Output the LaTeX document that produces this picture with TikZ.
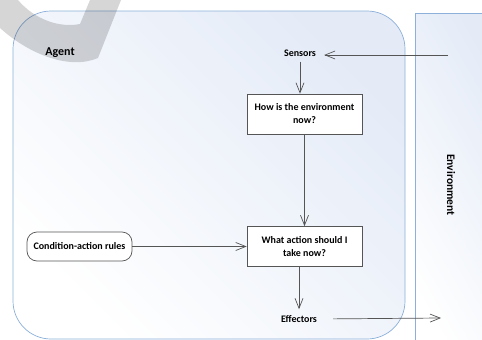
\documentclass[tikz,border=0pt]{standalone}
\usepackage{fontspec}
\setmainfont{Carlito}
\usetikzlibrary{arrows.meta,calc}
\definecolor{frameblue}{RGB}{140,176,218}
\definecolor{paleblue}{RGB}{228,235,247}
\definecolor{linegray}{RGB}{85,85,85}
\begin{document}
\begin{tikzpicture}[x=1pt,y=-1pt,
  lbl/.style={font=\fontsize{10}{11}\selectfont\bfseries, inner sep=1pt},
  stepbox/.style={draw=linegray, line width=0.7pt, fill=white, minimum width=115pt,
    minimum height=40pt, align=center, font=\fontsize{10}{13}\selectfont\bfseries, inner sep=2pt},
  rulebox/.style={draw=linegray, line width=0.7pt, fill=white, rounded corners=10pt,
    minimum width=105pt, minimum height=29pt, font=\fontsize{10}{11}\selectfont\bfseries},
  flow/.style={draw=linegray, line width=0.7pt,
    -{Straight Barb[length=10pt,width=8pt,line width=0.7pt]}}
]
\useasboundingbox (0,0) rectangle (482,340);
\fill[white] (0,0) rectangle (482,340);

% environment panel
\shade[left color=paleblue, right color=white, shading angle=-60]
  (415,13) rectangle (500,360);
\draw[frameblue, line width=0.7pt] (500,13) -- (415,13) -- (415,360);

% agent panel
\shade[left color=paleblue, right color=white, shading angle=-45, rounded corners=38pt]
  (13,11) rectangle (405,339);
\draw[frameblue, line width=0.7pt, rounded corners=38pt] (13,11) rectangle (405,339);

% labels and boxes
\node[font=\fontsize{12}{14}\selectfont\bfseries] (agent) at (60,53) {Agent};
\node[lbl] (sensors) at (300,53) {Sensors};
\node[stepbox] (now) at (304.5,114) {How is the environment\\now?};
\node[stepbox] (act) at (304.5,246.5) {What action should I\\take now?};
\node[rulebox] (rules) at (79.5,246.5) {Condition-action rules};
\node[lbl] (effectors) at (299,319) {Effectors};
\node[font=\fontsize{11.5}{12}\selectfont\bfseries, rotate=-90] (env) at (451,185) {Environment};

\coordinate (percept) at (448,55);
\coordinate (output) at (441,318);

% connectors
\draw[flow, shorten >=7pt] (percept) -- (sensors.east |- percept);
\draw[flow, shorten <=4pt] (sensors.south) -- (sensors.south |- now.north);
\draw[flow] (now) -- (act);
\draw[flow] (rules) -- (act);
\draw[flow, shorten >=5pt] (act.south -| effectors) -- (effectors.north);
\draw[flow, shorten <=15pt] (effectors.east) -- (output);

% grey hook stroke over the top-left corner
\fill[black, opacity=0.16]
  (0,28) .. controls (30,55) and (70,70) .. (98,58) -- (121,0) -- (90,0)
  -- (80,24) .. controls (60,28) and (35,20) .. (18,0) -- (0,0) -- cycle;
\end{tikzpicture}
\end{document}
